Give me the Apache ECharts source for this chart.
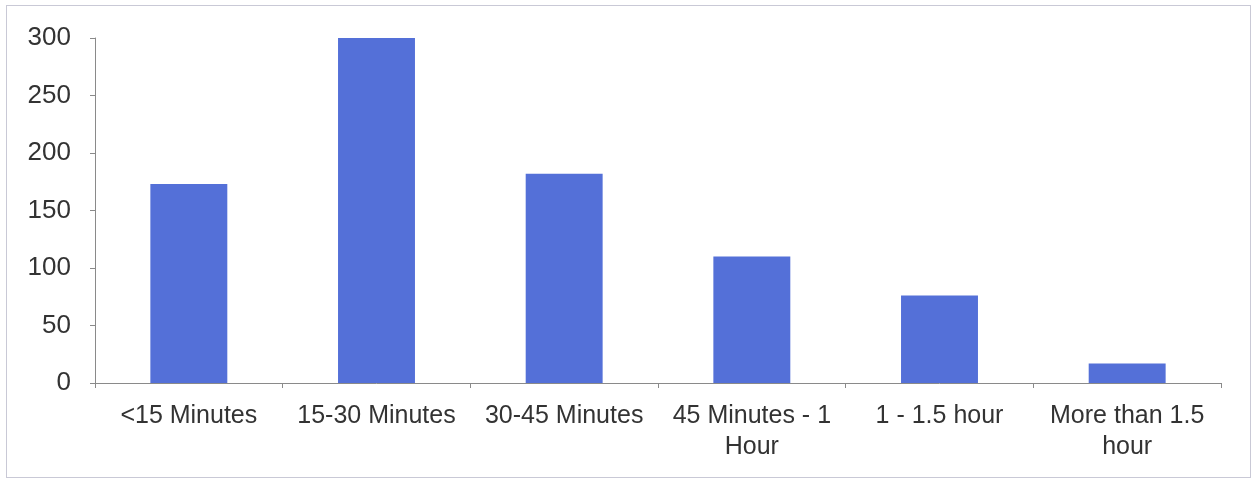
<!DOCTYPE html>
<html>
<head>
<meta charset="utf-8">
<script src="https://cdn.jsdelivr.net/npm/echarts@6/dist/echarts.min.js"></script>
<style>
  html, body { margin: 0; padding: 0; background: #fff; }
  #main { width: 1254px; height: 480px; }
  #frame { position: absolute; left: 6px; top: 5px; width: 1243px; height: 471px; border: 1px solid #c9c9d6; pointer-events: none; }
</style>
</head>
<body>
<div id="main"></div>
<div id="frame"></div>
<script>
const categories = [
  "<15 Minutes",
  "15-30 Minutes",
  "30-45 Minutes",
  "45 Minutes - 1\nHour",
  "1 - 1.5 hour",
  "More than 1.5\nhour"
];
const counts = [173, 300, 182, 110, 76, 17];
const yTicks = { min: 0, max: 300, interval: 50 };

const chart = echarts.init(document.getElementById("main"));
chart.setOption({
  animation: false,
  textStyle: { fontFamily: "Liberation Sans, Arial, sans-serif" },
  grid: { left: 95, right: 33, top: 38, bottom: 97 },
  xAxis: {
    type: "category",
    data: categories,
    axisLine: { lineStyle: { color: "#8a8a8a", width: 1 } },
    axisTick: { show: true, length: 5, lineStyle: { color: "#8a8a8a" } },
    axisLabel: {
      color: "#333",
      fontSize: 25,
      lineHeight: 31,
      margin: 18,
      interval: 0
    }
  },
  yAxis: {
    type: "value",
    min: yTicks.min,
    max: yTicks.max,
    interval: yTicks.interval,
    splitLine: { show: false },
    axisLine: { show: true, lineStyle: { color: "#8a8a8a", width: 1 } },
    axisTick: { show: true, length: 5, lineStyle: { color: "#8a8a8a" } },
    axisLabel: { color: "#333", fontSize: 26, margin: 24 }
  },
  series: [
    {
      type: "bar",
      data: counts,
      barCategoryGap: "59%",
      itemStyle: { color: "#5470d8" }
    }
  ]
});
</script>
</body>
</html>
